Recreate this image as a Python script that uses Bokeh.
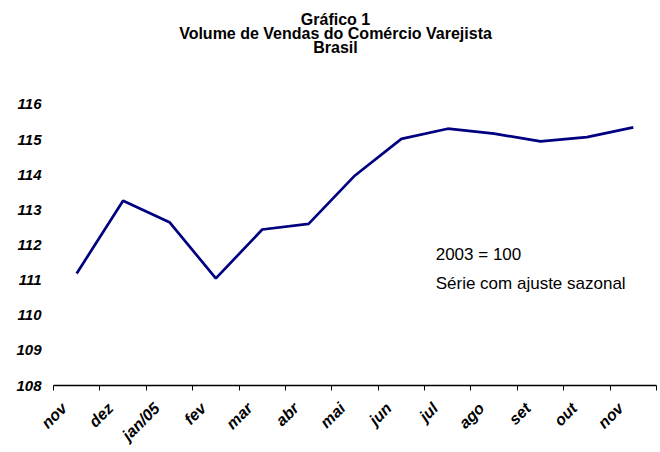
import math
from bokeh.plotting import figure
from bokeh.models import (Range1d, FixedTicker, CustomJSTickFormatter, Label)
from bokeh.embed import file_html
from bokeh.resources import INLINE

months = ["nov", "dez", "jan/05", "fev", "mar", "abr", "mai", "jun",
          "jul", "ago", "set", "out", "nov"]
volume = [111.19, 113.26, 112.65, 111.05, 112.44, 112.60, 113.98,
          115.02, 115.31, 115.17, 114.95, 115.07, 115.35]
y_ticks = [108, 109, 110, 111, 112, 113, 114, 115, 116]
title_lines = ["Gráfico 1", "Volume de Vendas do Comércio Varejista", "Brasil"]
note_lines = ["2003 = 100", "Série com ajuste sazonal"]

xs = [i + 0.5 for i in range(len(months))]

FONT = "Liberation Sans"

p = figure(width=660, height=452, output_backend="svg", toolbar_location=None,
           x_range=Range1d(0, 13), y_range=Range1d(108, 118.96),
           min_border_left=53, min_border_right=4, min_border_top=0,
           min_border_bottom=67)
p.outline_line_color = None
p.grid.grid_line_color = None
p.background_fill_color = "white"
p.border_fill_color = "white"

p.line(xs, volume, line_color="#000080", line_width=2.7)

# y axis
p.yaxis.ticker = FixedTicker(ticks=y_ticks)
p.yaxis.axis_line_color = None
p.yaxis.major_tick_line_color = None
p.yaxis.minor_tick_line_color = None
p.yaxis.major_tick_out = 0
p.yaxis.minor_tick_out = 0
p.yaxis.major_label_standoff = 12
p.yaxis.major_label_text_font = FONT
p.yaxis.major_label_text_font_style = "bold italic"
p.yaxis.major_label_text_font_size = "15px"
p.yaxis.major_label_text_color = "black"

# x axis: tick marks at category boundaries, labels near centres
shift = 0.27
p.xaxis.ticker = FixedTicker(ticks=[x - shift for x in xs],
                             minor_ticks=list(range(len(months) + 1)))
p.xaxis.formatter = CustomJSTickFormatter(
    args=dict(labels=months, shift=shift),
    code="return labels[Math.round(tick - 0.5 + shift)]")
p.xaxis.axis_line_color = "black"
p.xaxis.axis_line_width = 1.5
p.xaxis.major_tick_line_color = None
p.xaxis.major_tick_in = 0
p.xaxis.major_tick_out = 0
p.xaxis.minor_tick_line_color = "black"
p.xaxis.minor_tick_line_width = 1
p.xaxis.minor_tick_in = 0
p.xaxis.minor_tick_out = 5
p.xaxis.major_label_orientation = math.pi / 4
p.xaxis.major_label_standoff = 15
p.xaxis.major_label_text_line_height = 0.2
p.xaxis.major_label_text_font = FONT
p.xaxis.major_label_text_font_style = "bold italic"
p.xaxis.major_label_text_font_size = "16px"
p.xaxis.major_label_text_color = "black"

# title lines (drawn inside the invisible upper part of the frame)
for ty, txt in zip([118.42, 118.02, 117.62], title_lines):
    p.add_layout(Label(x=6.08, y=ty, text=txt, text_align="center",
                       text_baseline="middle", text_font=FONT,
                       text_font_style="bold", text_font_size="16px",
                       text_color="black"))

# note
for ny, txt in zip([111.72, 110.90], note_lines):
    p.add_layout(Label(x=8.24, y=ny, text=txt, text_align="left",
                       text_baseline="middle", text_font=FONT,
                       text_font_size="17px", text_color="black"))

open("out.html", "w").write(file_html(p, INLINE))
